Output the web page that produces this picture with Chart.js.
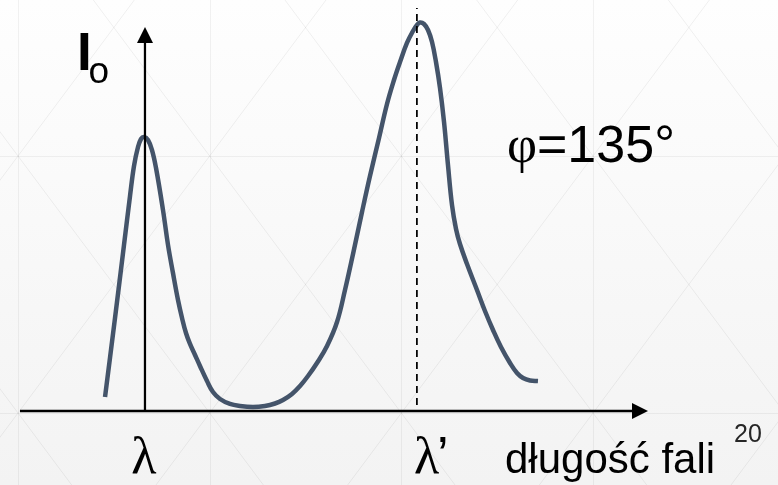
<!DOCTYPE html>
<html><head><meta charset="utf-8">
<script src="https://cdn.jsdelivr.net/npm/chart.js@4/dist/chart.umd.min.js"></script>
<style>
html,body{margin:0;padding:0;background:#f8f8f8;overflow:hidden}
#wrap{width:778px;height:485px;position:relative}
canvas{display:block}
</style></head>
<body><div id="wrap"><canvas id="c" width="778" height="485"></canvas></div>
<script>
// ---- data (arbitrary units) ----
const wavelength = [13.54,15.13,16.56,17.52,18.15,18.79,19.27,19.75,20.38,21.02,21.66,22.77,23.57,24.36,25.16,25.80,26.43,27.07,27.87,28.66,29.78,30.73,31.85,33.44,35.03,37.10,39.01,40.61,41.88,43.31,44.59,45.86,47.29,48.89,50.48,51.75,53.03,54.46,55.73,57.17,58.44,59.55,60.51,61.62,62.58,63.22,63.69,64.33,64.97,65.61,66.24,66.88,67.52,68.15,68.79,69.43,70.06,71.18,72.77,74.04,75.32,76.59,78.03,79.14,80.10,81.21,82.48];
const intensity  = [3.47,23.08,41.19,53.35,60.79,65.51,67.49,67.99,67.25,64.76,60.30,49.88,41.19,34.24,27.54,23.08,19.35,16.63,13.90,11.17,7.44,4.71,2.98,1.74,1.24,0.99,1.24,1.86,2.73,4.22,6.20,8.68,11.91,16.13,22.08,30.02,38.96,49.38,58.31,67.74,76.18,82.13,86.60,91.32,94.29,95.78,96.40,96.03,94.54,91.56,86.60,80.15,71.71,61.04,51.12,45.16,41.44,36.48,30.02,24.81,20.10,15.88,11.91,9.43,8.19,7.57,7.44];
const tickValues = [19.9, 63.2];          // λ and λ'
const tickLabels = ['λ', 'λ’'];
const axisTitleX = 'długość fali';
const axisTitleY = ['I', 'o'];
const annotationText = ['φ', '=135°'];
const pageNumber = '20';
const xRange = [0, 100];
const yRange = [0, 100];
const yAxisTop = 95.3;
const dashedRange = [1.5, 100];

const bgPlugin = {
  id: 'bg',
  beforeDraw(chart) {
    const ctx = chart.ctx, W = chart.width, H = chart.height;
    ctx.save();
    const g = ctx.createLinearGradient(0, 0, 0, H);
    g.addColorStop(0, '#fefefe');
    g.addColorStop(1, '#f3f3f3');
    ctx.fillStyle = g;
    ctx.fillRect(0, 0, W, H);
    const cw = 191.67, chh = 257, ox = 18, oy = 156;
    ctx.strokeStyle = 'rgba(0,0,0,0.06)';
    ctx.lineWidth = 1;
    for (let i = -1; i <= 4; i++) {
      for (let j = -1; j <= 1; j++) {
        const x = ox + i * cw, y = oy + j * chh;
        ctx.beginPath();
        ctx.moveTo(x, y); ctx.lineTo(x + cw, y + chh);
        ctx.moveTo(x + cw, y); ctx.lineTo(x, y + chh);
        ctx.stroke();
      }
    }
    ctx.strokeStyle = 'rgba(0,0,0,0.05)';
    for (let i = -1; i <= 4; i++) {
      const x = Math.round(ox + i * cw) + 0.5;
      ctx.beginPath(); ctx.moveTo(x, 0); ctx.lineTo(x, H); ctx.stroke();
    }
    for (let j = -1; j <= 1; j++) {
      const y = Math.round(oy + j * chh) + 0.5;
      ctx.beginPath(); ctx.moveTo(0, y); ctx.lineTo(W, y); ctx.stroke();
    }
    ctx.restore();
  }
};

const axesPlugin = {
  id: 'axes',
  afterDatasetsDraw(chart) {
    const ctx = chart.ctx, xs = chart.scales.x, ys = chart.scales.y;
    const xStart = xs.getPixelForValue(xRange[0]);
    const xEnd = xs.getPixelForValue(xRange[1]);
    const yZero = ys.getPixelForValue(0);
    const yAxisX = xs.getPixelForValue(tickValues[0]);
    const yTop = ys.getPixelForValue(yAxisTop);
    ctx.save();
    ctx.strokeStyle = '#000'; ctx.fillStyle = '#000';
    // x axis
    ctx.lineWidth = 2.5;
    ctx.beginPath(); ctx.moveTo(xStart, yZero); ctx.lineTo(xEnd - 10, yZero); ctx.stroke();
    ctx.beginPath(); ctx.moveTo(xEnd, yZero); ctx.lineTo(xEnd - 16, yZero - 8); ctx.lineTo(xEnd - 16, yZero + 8); ctx.closePath(); ctx.fill();
    // y axis
    ctx.lineWidth = 2.25;
    ctx.beginPath(); ctx.moveTo(yAxisX, yZero); ctx.lineTo(yAxisX, yTop + 10); ctx.stroke();
    ctx.beginPath(); ctx.moveTo(yAxisX, yTop); ctx.lineTo(yAxisX - 8, yTop + 16); ctx.lineTo(yAxisX + 8, yTop + 16); ctx.closePath(); ctx.fill();

    // tick labels
    ctx.textBaseline = 'alphabetic';
    const base = yZero + 62;
    const lp0 = xs.getPixelForValue(tickValues[0]);
    ctx.font = '52px "Liberation Serif", serif';
    ctx.textAlign = 'center';
    ctx.fillText(tickLabels[0], lp0 - 1, base);
    const lp1 = xs.getPixelForValue(tickValues[1]);
    const lam = tickLabels[1].slice(0, 1), apo = tickLabels[1].slice(1);
    ctx.textAlign = 'left';
    ctx.fillText(lam, lp1 - 3, base);
    const lw = ctx.measureText(lam).width;
    ctx.font = '52px "Liberation Sans", Arial, sans-serif';
    ctx.fillText(apo, lp1 - 3 + lw - 2, base);

    // x axis title
    ctx.font = '42px "Liberation Sans", Arial, sans-serif';
    ctx.fillText(axisTitleX, 505, 473);
    // y axis title
    ctx.font = 'bold 53px "Liberation Sans", Arial, sans-serif';
    ctx.fillText(axisTitleY[0], 77, 70);
    ctx.font = '37px "Liberation Sans", Arial, sans-serif';
    ctx.fillText(axisTitleY[1], 88.5, 82.5);
    // annotation
    ctx.font = '52px "Liberation Serif", serif';
    ctx.textAlign = 'center';
    ctx.fillText(annotationText[0], 522, 162);
    ctx.textAlign = 'left';
    ctx.font = '52px "Liberation Sans", Arial, sans-serif';
    ctx.fillText(annotationText[1], 537, 162);
    // page number
    ctx.fillStyle = '#262626';
    ctx.font = '25px "Liberation Sans", Arial, sans-serif';
    ctx.fillText(pageNumber, 734, 442);
    ctx.restore();
  }
};

new Chart(document.getElementById('c'), {
  type: 'line',
  data: {
    datasets: [
      {
        data: [{x: tickValues[1], y: dashedRange[0]}, {x: tickValues[1], y: dashedRange[1]}],
        borderColor: '#000', borderWidth: 1.75, borderDash: [7, 5],
        pointRadius: 0, fill: false, order: 0, tension: 0
      },
      {
        data: wavelength.map((w, i) => ({x: w, y: intensity[i]})),
        borderColor: '#44546a', borderWidth: 4.5,
        tension: 0.4,
        pointRadius: 0, fill: false, order: 1,
        borderCapStyle: 'butt', borderJoinStyle: 'round'
      }
    ]
  },
  options: {
    responsive: false, animation: false,
    layout: {padding: {left: 20, right: 130, top: 8, bottom: 74}},
    scales: {
      x: {type: 'linear', min: xRange[0], max: xRange[1], display: false},
      y: {type: 'linear', min: yRange[0], max: yRange[1], display: false}
    },
    plugins: {legend: {display: false}, tooltip: {enabled: false}},
    elements: {line: {clip: false}}
  },
  plugins: [bgPlugin, axesPlugin]
});
</script>
</body></html>
